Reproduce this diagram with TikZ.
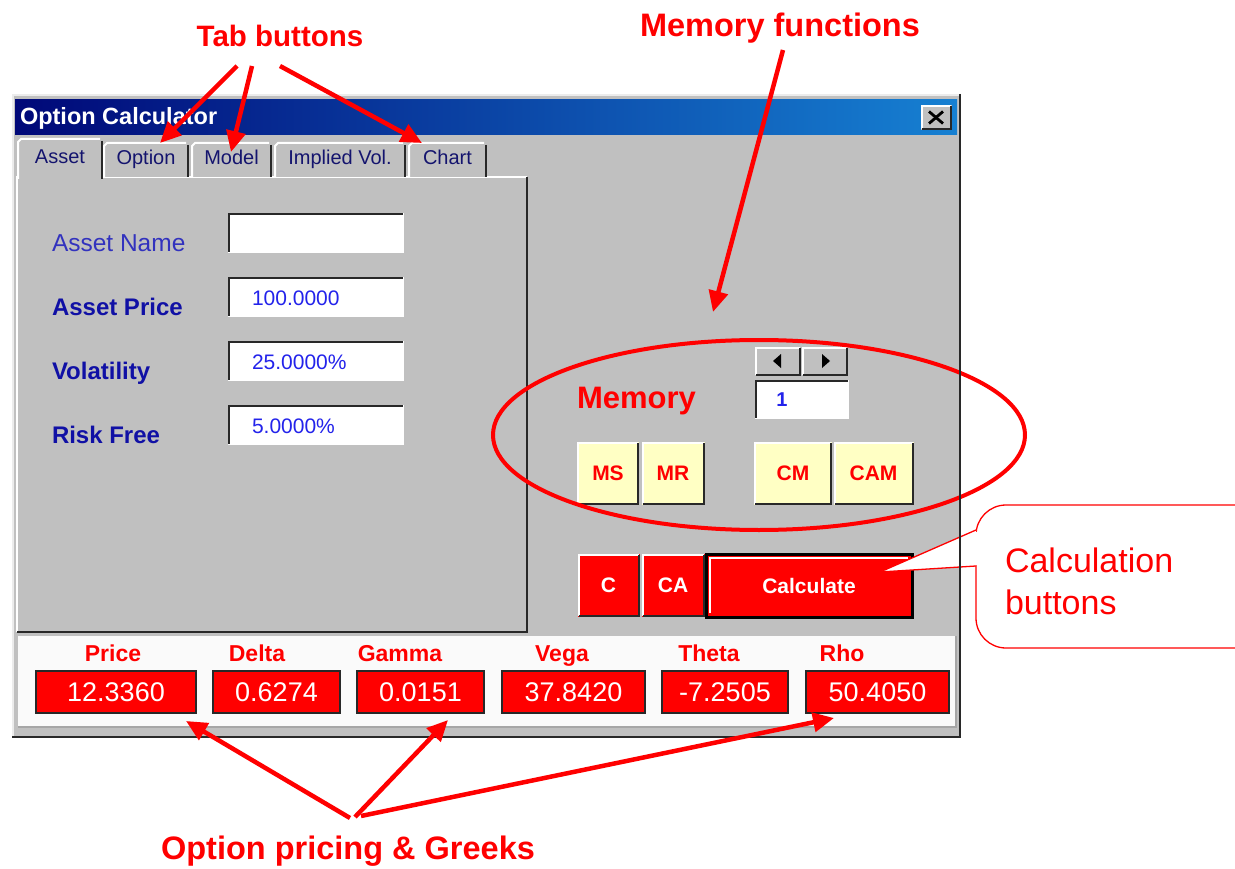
\documentclass[tikz,border=0pt]{standalone}
\usepackage{fontspec}
\setmainfont{Liberation Sans}
\usetikzlibrary{arrows.meta,shapes.geometric}
\definecolor{wingray}{RGB}{192,192,192}
\definecolor{winlight}{RGB}{236,236,236}
\definecolor{windark}{RGB}{40,40,40}
\definecolor{titleL}{RGB}{0,8,120}
\definecolor{titleR}{RGB}{22,128,210}
\definecolor{tabnavy}{RGB}{20,20,110}
\definecolor{lblblue}{RGB}{50,50,190}
\definecolor{boldblue}{RGB}{16,16,165}
\definecolor{valblue}{RGB}{35,35,235}
\definecolor{annred}{RGB}{255,0,0}
\definecolor{btnyellow}{RGB}{255,255,196}
\definecolor{panelwhite}{RGB}{250,250,250}
\newcommand\fsz[1]{\fontsize{#1}{#1}\selectfont}
\newcommand\raisedbev[1]{%
  \draw[white,line width=2pt] ([shift={(1pt,1pt)}]#1.south west) -- ([shift={(1pt,-1pt)}]#1.north west) -- ([shift={(-1pt,-1pt)}]#1.north east);
  \draw[windark,line width=2pt] ([shift={(1pt,1pt)}]#1.south west) -- ([shift={(-1pt,1pt)}]#1.south east) -- ([shift={(-1pt,-1pt)}]#1.north east);}
\newcommand\sunkenbev[1]{%
  \draw[white,line width=2pt] ([shift={(1pt,1pt)}]#1.south west) -- ([shift={(-1pt,1pt)}]#1.south east) -- ([shift={(-1pt,-1pt)}]#1.north east);
  \draw[windark,line width=2pt] ([shift={(1pt,1pt)}]#1.south west) -- ([shift={(1pt,-1pt)}]#1.north west) -- ([shift={(-1pt,-1pt)}]#1.north east);}
\newcommand\tabbev[1]{%
  \draw[white,line width=2pt] ([xshift=1pt]#1.south west) -- ([shift={(1pt,-4pt)}]#1.north west) -- ([shift={(4pt,-1pt)}]#1.north west) -- ([shift={(-3pt,-1pt)}]#1.north east);
  \draw[windark,line width=2pt] ([shift={(-1pt,-3pt)}]#1.north east) -- ([xshift=-1pt]#1.south east);}
\begin{document}
\begin{tikzpicture}[x=1pt,y=-1pt,
  every node/.style={inner sep=0pt,outer sep=0pt},
  ann/.style={text=annred,font=\fsz{32.5}\bfseries},
  arr/.style={draw=annred,line width=4.5pt,-{Triangle[length=21pt,width=19pt]}},
  tab/.style={fill=wingray,anchor=north west,minimum height=35pt,text=tabnavy,font=\fsz{20},text height=14.5pt,text depth=4.5pt},
  lbl/.style={anchor=base west,text=boldblue,font=\fsz{24}\bfseries},
  tbox/.style={fill=white,minimum width=176pt,minimum height=40pt},
  valtxt/.style={anchor=base west,text=valblue,font=\fsz{21}},
  graybtn/.style={fill=wingray,minimum height=29pt},
  ybtn/.style={fill=btnyellow,text=annred,font=\fsz{21}\bfseries,minimum height=63pt},
  rbtn/.style={fill=annred,text=white,font=\fsz{21}\bfseries,minimum height=63pt},
  glbl/.style={anchor=base,text=annred,font=\fsz{23}\bfseries},
  gbox/.style={fill=annred,draw=windark,line width=1.5pt,minimum height=42pt,text=white,font=\fsz{27}}]
\useasboundingbox (0,0) rectangle (1235,869);
\fill[white] (0,0) rectangle (1235,869);

% ---- window ----
\node[fill=wingray,anchor=north west,minimum width=949pt,minimum height=644pt] (win) at (12,94) {};
\draw[winlight,line width=2pt] (13,737) -- (13,95) -- (959,95);
\shade[left color=titleL,right color=titleR] (15,100) rectangle (957,135);
\node[anchor=west,text=white,font=\fsz{23.5}\bfseries] (title) at (20,118) {Option Calculator};
\node[fill=wingray,minimum width=31pt,minimum height=25pt] (close) at (936,117.5) {};
\raisedbev{close}
\draw[black,line width=2.8pt] ([shift={(-7pt,-6pt)}]close.center) -- ([shift={(7pt,6pt)}]close.center);
\draw[black,line width=2.8pt] ([shift={(-7pt,6pt)}]close.center) -- ([shift={(7pt,-6pt)}]close.center);

% ---- tab panel ----
\node[anchor=north west,minimum width=510pt,minimum height=455pt] (panel) at (17,177) {};
\draw[white,line width=2pt] (panel.south west) -- (panel.north west) -- (panel.north east);
\draw[windark,line width=2.5pt] (panel.south west) -- (panel.south east) -- (panel.north east);

\node[tab,minimum width=86pt] (tOption) at (103,142) {Option};
\tabbev{tOption}
\node[tab,minimum width=81pt] (tModel) at (191,142) {Model};
\tabbev{tModel}
\node[tab,minimum width=132pt] (tImplied) at (274,142) {Implied Vol.};
\tabbev{tImplied}
\node[tab,minimum width=79pt] (tChart) at (408,142) {Chart};
\tabbev{tChart}
\node[tab,minimum width=86pt,minimum height=41pt,text depth=5pt] (tAsset) at (17,138) {Asset};
\tabbev{tAsset}

% ---- asset fields ----
\node[lbl,text=lblblue,font=\fsz{24.5}] (nName) at (52,251.5) {Asset Name};
\node[lbl] (nPrice) at (52,315.5) {Asset Price};
\node[lbl] (nVol) at (52,379.5) {Volatility};
\node[lbl] (nRisk) at (52,443.5) {Risk Free};
\node[tbox] (bName) at (316,233) {};
\sunkenbev{bName}
\node[tbox] (bPrice) at (316,297) {};
\sunkenbev{bPrice}
\node[tbox] (bVol) at (316,361) {};
\sunkenbev{bVol}
\node[tbox] (bRisk) at (316,425) {};
\sunkenbev{bRisk}
\node[valtxt] (vPrice) at (252,305.5) {100.0000};
\node[valtxt] (vVol) at (252,369.5) {25.0000\%};
\node[valtxt] (vRisk) at (252,433.5) {5.0000\%};

% ---- memory ----
\node[anchor=base west,text=annred,font=\fsz{31}\bfseries] (memlbl) at (577,408) {Memory};
\node[graybtn,minimum width=46pt] (spinL) at (778,361) {};
\raisedbev{spinL}
\fill[black] ([xshift=-5pt]spinL.center) -- ([shift={(3pt,7pt)}]spinL.center) -- ([shift={(3pt,-7pt)}]spinL.center) -- cycle;
\node[graybtn,minimum width=46pt] (spinR) at (825,361) {};
\raisedbev{spinR}
\fill[black] ([xshift=5pt]spinR.center) -- ([shift={(-3pt,7pt)}]spinR.center) -- ([shift={(-3pt,-7pt)}]spinR.center) -- cycle;
\node[fill=white,minimum width=94pt,minimum height=39pt] (membox) at (802,399.5) {};
\sunkenbev{membox}
\node[text=valblue,font=\fsz{20}\bfseries] (memnum) at (782,400) {1};

\node[ybtn,minimum width=62pt] (bMS) at (608,473.5) {MS};
\raisedbev{bMS}
\node[ybtn,minimum width=63pt] (bMR) at (673,473.5) {MR};
\raisedbev{bMR}
\node[ybtn,minimum width=78pt] (bCM) at (793,473.5) {CM};
\raisedbev{bCM}
\node[ybtn,minimum width=80pt] (bCAM) at (873.5,473.5) {CAM};
\raisedbev{bCAM}

% ---- calculation buttons ----
\node[rbtn,minimum width=62pt] (bC) at (608.5,585.5) {C};
\raisedbev{bC}
\node[rbtn,minimum width=63pt] (bCA) at (673,585.5) {CA};
\raisedbev{bCA}
\node[rbtn,minimum width=206pt] (bCalc) at (809,585.5) {Calculate};
\draw[white,line width=1.5pt] ([shift={(4pt,4pt)}]bCalc.south west) -- ([shift={(4pt,-4pt)}]bCalc.north west) -- ([shift={(-4pt,-4pt)}]bCalc.north east);
\draw[black,line width=3pt] (bCalc.south west) rectangle (bCalc.north east);

% ---- greeks panel ----
\fill[panelwhite] (18,636) rectangle (956,727);
\draw[gray!70,line width=1.5pt] (18,727) -- (956,727) -- (956,636);
\draw[windark,line width=2.5pt] (12,737) -- (960,737);

\node[glbl] (lPrice) at (113,661) {Price};
\node[glbl] (lDelta) at (257,661) {Delta};
\node[glbl] (lGamma) at (400,661) {Gamma};
\node[glbl] (lVega) at (562,661) {Vega};
\node[glbl] (lTheta) at (709,661) {Theta};
\node[glbl] (lRho) at (842,661) {Rho};
\node[gbox,minimum width=160pt] (gPrice) at (116,692) {12.3360};
\node[gbox,minimum width=127pt] (gDelta) at (276.5,692) {0.6274};
\node[gbox,minimum width=127pt] (gGamma) at (420.5,692) {0.0151};
\node[gbox,minimum width=143pt] (gVega) at (573.5,692) {37.8420};
\node[gbox,minimum width=126pt] (gTheta) at (725,692) {-7.2505};
\node[gbox,minimum width=143pt] (gRho) at (877.5,692) {50.4050};

% ---- memory ring ----
\node[ellipse,draw=annred,line width=4pt,minimum width=532pt,minimum height=190pt] (memring) at (759,435) {};

% ---- callout ----
\node[draw=annred,fill=white,line width=1.3pt,rounded corners=30pt,anchor=north west,minimum width=300pt,minimum height=143pt] (callbox) at (976,505) {};
\coordinate (ctip) at (880,572);
\coordinate (cp1) at (976,530);
\coordinate (cp2) at (976,566);
\fill[white] (cp1) -- (ctip) -- (cp2) -- cycle;
\draw[white,line width=3pt] (976,531.5) -- (976,564.5);
\draw[annred,line width=1.3pt] (cp1) -- (ctip) -- (cp2);
\node[anchor=base west,align=left,text=annred,font=\fontsize{34}{42}\selectfont] (calltxt) at (1005,614) {Calculation\\buttons};
\draw[windark,line width=2.5pt] (960,94) -- (960,738);

% ---- annotations ----
\node[ann,font=\fsz{29.5}\bfseries] (tabann) at (280,36) {Tab buttons};
\node[ann] (memann) at (780,28) {Memory functions};
\node[ann] (greekann) at (348,851) {Option pricing \& Greeks};

\coordinate (ta1) at (237,66);
\coordinate (ta2) at (252,66);
\coordinate (ta3) at (280,66);
\coordinate (tipOpt) at (160,143);
\coordinate (tipMod) at (231,152);
\coordinate (tipChart) at (422,143);
\draw[arr] (ta1) -- (tipOpt);
\draw[arr] (ta2) -- (tipMod);
\draw[arr] (ta3) -- (tipChart);

\coordinate (ma) at (783,50);
\coordinate (tipMem) at (713,312);
\draw[arr] (ma) -- (tipMem);

\coordinate (ga1) at (350,818);
\coordinate (ga2) at (355,817);
\coordinate (ga3) at (361,816);
\coordinate (tipPrice) at (186,721);
\coordinate (tipGamma) at (448,720);
\coordinate (tipRho) at (834,718);
\draw[arr] (ga1) -- (tipPrice);
\draw[arr] (ga2) -- (tipGamma);
\draw[arr] (ga3) -- (tipRho);
\end{tikzpicture}
\end{document}
